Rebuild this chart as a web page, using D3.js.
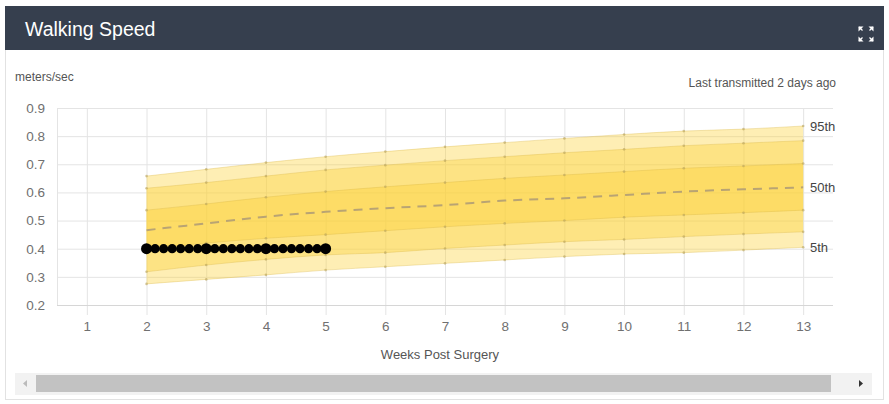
<!DOCTYPE html>
<html>
<head>
<meta charset="utf-8">
<script src="https://cdn.jsdelivr.net/npm/d3@7"></script>
<style>
  body { margin: 0; background: #fff; font-family: "Liberation Sans", Arial, sans-serif; }
  .grid line { stroke: #e4e4e4; }
  .grid path { display: none; }
  .tick text { fill: #707070; font-size: 13.5px; }
</style>
</head>
<body>
<script>
// percentile curves, per week
var weeks = [2, 3, 4, 5, 6, 7, 8, 9, 10, 11, 12, 13];
var p95 = [0.658, 0.682, 0.706, 0.727, 0.745, 0.762, 0.777, 0.792, 0.806, 0.818, 0.825, 0.836];
var p90 = [0.615, 0.635, 0.658, 0.680, 0.697, 0.713, 0.727, 0.741, 0.753, 0.766, 0.775, 0.784];
var p75 = [0.537, 0.559, 0.583, 0.603, 0.620, 0.635, 0.650, 0.662, 0.674, 0.686, 0.694, 0.703];
var p50 = [0.466, 0.490, 0.514, 0.531, 0.544, 0.555, 0.571, 0.579, 0.591, 0.603, 0.611, 0.618];
var p25 = [0.398, 0.420, 0.437, 0.450, 0.464, 0.478, 0.490, 0.500, 0.512, 0.520, 0.528, 0.537];
var p10 = [0.318, 0.342, 0.362, 0.378, 0.386, 0.401, 0.413, 0.425, 0.433, 0.443, 0.452, 0.460];
var p5  = [0.275, 0.291, 0.307, 0.324, 0.336, 0.348, 0.360, 0.372, 0.381, 0.386, 0.395, 0.405];

// patient measurements (daily, weeks 2 to 5)
var patientDays = [2, 2.143, 2.286, 2.429, 2.571, 2.714, 2.857, 3, 3.143, 3.286, 3.429, 3.571, 3.714, 3.857,
                   4, 4.143, 4.286, 4.429, 4.571, 4.714, 4.857, 5];
var patientSpeed = [0.40, 0.40, 0.40, 0.40, 0.40, 0.40, 0.40, 0.40, 0.40, 0.40, 0.40, 0.40, 0.40, 0.40,
                    0.40, 0.40, 0.40, 0.40, 0.40, 0.40, 0.40, 0.40];

var xTicks = [1, 2, 3, 4, 5, 6, 7, 8, 9, 10, 11, 12, 13];
var yTicks = [0.2, 0.3, 0.4, 0.5, 0.6, 0.7, 0.8, 0.9];
var curveLabels = [{name: "95th", vals: p95}, {name: "50th", vals: p50}, {name: "5th", vals: p5}];

var W = 889, H = 404;
var svg = d3.select("body").append("svg").attr("width", W).attr("height", H);

// panel + header
svg.append("rect").attr("x", 5.5).attr("y", 6.5).attr("width", 878).attr("height", 393)
    .attr("fill", "#fff").attr("stroke", "#e2e2e2");
svg.append("rect").attr("x", 5).attr("y", 6).attr("width", 879).attr("height", 44).attr("fill", "#363f4e");
svg.append("text").attr("x", 25).attr("y", 36).attr("fill", "#fff")
    .style("font-size", "19.5px").text("Walking Speed");

// expand icon: four small corner arrows
var ic = svg.append("g").attr("transform", "translate(866,34)").attr("fill", "#fff");
[[-1, -1], [1, -1], [-1, 1], [1, 1]].forEach(function(s) {
  var cx = s[0] * 4.5, cy = s[1] * 4.5;
  ic.append("path")
    .attr("d", "M" + (cx + s[0] * 3) + "," + (cy + s[1] * 3) + " l" + (-s[0] * 5) + ",0 l" + (5 * s[0]) + "," + (-5 * s[1]) + "z");
  ic.append("line").attr("x1", cx + s[0] * 2.5).attr("y1", cy + s[1] * 2.5)
    .attr("x2", cx - s[0] * 1).attr("y2", cy - s[1] * 1).attr("stroke", "#fff").attr("stroke-width", 1.3);
});

svg.append("text").attr("x", 15).attr("y", 81).attr("fill", "#555")
    .style("font-size", "12px").text("meters/sec");
svg.append("text").attr("x", 836).attr("y", 87).attr("fill", "#555").attr("text-anchor", "end")
    .style("font-size", "12px").text("Last transmitted 2 days ago");

// scales
var x = d3.scaleLinear().domain([0.5, 13.5]).range([57, 833]);
var y = d3.scaleLinear().domain([0.2, 0.9]).range([305, 108]);

// gridlines
svg.append("g").attr("class", "grid")
  .attr("transform", "translate(0,305)")
  .call(d3.axisBottom(x).tickValues([0.5].concat(xTicks)).tickSize(-197).tickSizeOuter(0).tickFormat(""));
svg.append("g").attr("class", "grid")
  .attr("transform", "translate(0,305)")
  .call(d3.axisBottom(x).tickValues(xTicks).tickSize(10).tickSizeOuter(0).tickFormat(""));
svg.append("g").attr("class", "grid")
  .attr("transform", "translate(57,0)")
  .call(d3.axisLeft(y).tickValues(yTicks).tickSize(-776).tickSizeOuter(0).tickFormat(""));
svg.append("line").attr("x1", 57).attr("x2", 833).attr("y1", 305.5).attr("y2", 305.5).attr("stroke", "#d6d6d6");

// axis labels
var xAx = svg.append("g").attr("transform", "translate(0,305)")
  .call(d3.axisBottom(x).tickValues(xTicks).tickSize(0).tickPadding(16).tickFormat(d3.format("d")));
xAx.select(".domain").remove();
var yAx = svg.append("g").attr("transform", "translate(45,0)")
  .call(d3.axisLeft(y).tickValues(yTicks).tickSize(0).tickPadding(0).tickFormat(d3.format(".1f")));
yAx.select(".domain").remove();
svg.selectAll(".tick text").style("font-family", "'Liberation Sans', Arial, sans-serif");

svg.append("text").attr("x", 440).attr("y", 359).attr("text-anchor", "middle").attr("fill", "#555")
    .style("font-size", "13px").text("Weeks Post Surgery");

// percentile bands (stacked translucent layers)
var band = function(lo, hi) {
  return d3.area().curve(d3.curveMonotoneX)
    .x(function(d, i) { return x(weeks[i]); })
    .y0(function(d, i) { return y(lo[i]); })
    .y1(function(d, i) { return y(hi[i]); })(weeks);
};
[[p5, p95], [p10, p90], [p25, p75]].forEach(function(b) {
  svg.append("path").attr("d", band(b[0], b[1]))
    .attr("fill", "#fbd234").attr("fill-opacity", 0.37);
});

var line = function(vals) {
  return d3.line().curve(d3.curveMonotoneX)
    .x(function(d, i) { return x(weeks[i]); }).y(function(d) { return y(d); })(vals);
};
[p95, p90, p75, p25, p10, p5].forEach(function(v) {
  svg.append("path").attr("d", line(v)).attr("fill", "none")
    .attr("stroke", "#d9b648").attr("stroke-opacity", 0.35).attr("stroke-width", 1);
  svg.append("g").selectAll("circle").data(v).enter().append("circle")
    .attr("cx", function(d, i) { return x(weeks[i]); })
    .attr("cy", function(d) { return y(d); })
    .attr("r", 1.3).attr("fill", "#b9a45c").attr("fill-opacity", 0.6);
});
svg.append("path").attr("d", line(p50)).attr("fill", "none")
  .attr("stroke", "#b9a473").attr("stroke-width", 2).attr("stroke-dasharray", "9,7");

curveLabels.forEach(function(c) {
  svg.append("text").attr("x", 810).attr("y", y(c.vals[c.vals.length - 1]))
    .attr("dy", "0.35em").attr("fill", "#444").style("font-size", "13px").text(c.name);
});

// patient dots
svg.append("g").selectAll("circle").data(patientSpeed).enter().append("circle")
  .attr("cx", function(d, i) { return x(patientDays[i]); })
  .attr("cy", function(d) { return y(d); })
  .attr("r", function(d, i) { return Number.isInteger(patientDays[i]) ? 5.5 : 4.6; })
  .attr("fill", "#000");

// scrollbar
svg.append("rect").attr("x", 15).attr("y", 373).attr("width", 857).attr("height", 22).attr("fill", "#f2f2f2");
svg.append("rect").attr("x", 36).attr("y", 375).attr("width", 795).attr("height", 17).attr("fill", "#c2c2c2");
svg.append("path").attr("d", "M27,380 l-4,3.5 l4,3.5z").attr("fill", "#bbb");
svg.append("path").attr("d", "M859,380 l4,3.5 l-4,3.5z").attr("fill", "#333");
</script>
</body>
</html>
